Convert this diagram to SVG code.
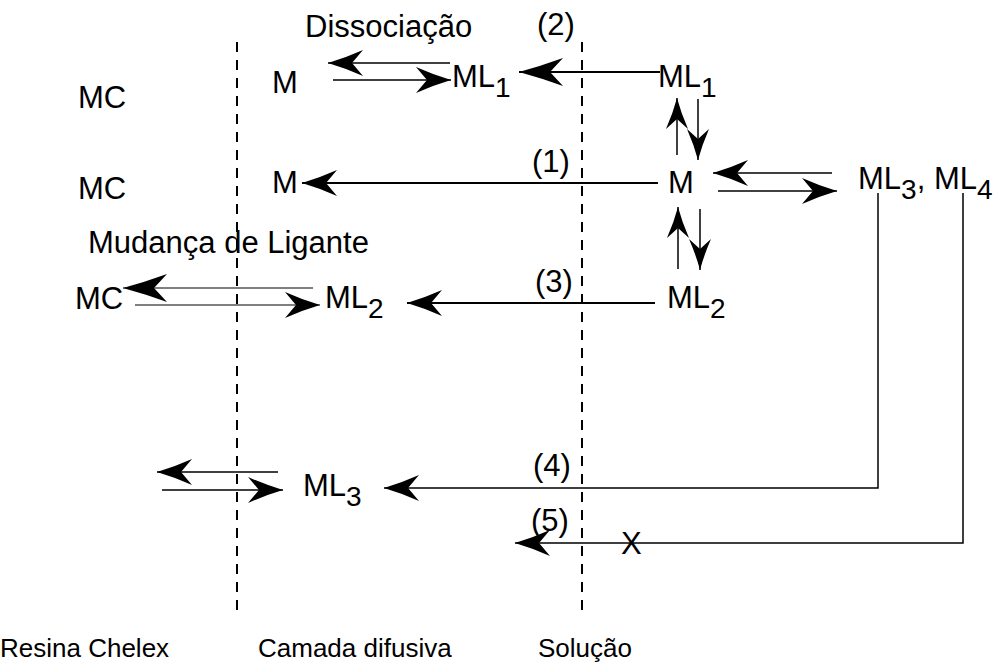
<svg xmlns="http://www.w3.org/2000/svg" width="1002" height="668" viewBox="0 0 1002 668">
  <style>
    text { font-family: "Liberation Sans", Arial, sans-serif; font-size: 31px; fill: #000; }
    .sub { font-size: 28px; }
    .zone-name { font-size: 26px; }
    .zone { stroke: #000; stroke-width: 2; stroke-dasharray: 10 8; fill: none; }
    .flux { stroke: #000; stroke-width: 2; fill: none; }
    .eq { stroke: #000; stroke-width: 1.5; fill: none; }
    .eqgray { stroke: #555; stroke-width: 1.5; fill: none; }
  </style>
  <defs>
    <marker id="headBig" markerUnits="userSpaceOnUse" markerWidth="50" markerHeight="32" refX="0" refY="0" viewBox="-46 -16 48 32" orient="auto">
      <path d="M0,0 Q-22,-6 -44,-14 L-31,0 L-44,14 Q-22,6 0,0 Z" fill="#000"/>
    </marker>
    <marker id="head" markerUnits="userSpaceOnUse" markerWidth="40" markerHeight="32" refX="0" refY="0" viewBox="-38 -16 40 32" orient="auto">
      <path d="M0,0 Q-17,-5 -35,-13 L-24,0 L-35,13 Q-17,5 0,0 Z" fill="#000"/>
    </marker>
    <marker id="headV" markerUnits="userSpaceOnUse" markerWidth="36" markerHeight="26" refX="0" refY="0" viewBox="-34 -13 36 26" orient="auto">
      <path d="M0,0 Q-15,-4 -31,-11 L-21,0 L-31,11 Q-15,4 0,0 Z" fill="#000"/>
    </marker>
  </defs>

  <!-- compartment boundaries -->
  <g id="boundaries">
    <line class="zone" x1="237" y1="42" x2="237" y2="610"/>
    <line class="zone" x1="582" y1="42" x2="582" y2="610"/>
  </g>

  <!-- species -->
  <g id="mc1"><text x="78" y="108">MC</text></g>
  <g id="m1"><text x="272" y="93">M</text></g>
  <g id="ml1-layer"><text x="452" y="87">ML<tspan class="sub" dy="10">1</tspan></text></g>
  <g id="ml1-sol"><text x="658" y="87">ML<tspan class="sub" dy="10">1</tspan></text></g>

  <g id="mc2"><text x="78" y="199">MC</text></g>
  <g id="m2"><text x="272" y="193">M</text></g>
  <g id="m-sol"><text x="668" y="193">M</text></g>
  <g id="ml34-sol"><text x="858" y="189">ML<tspan class="sub" dy="10">3</tspan><tspan dy="-10">, ML</tspan><tspan class="sub" dy="10">4</tspan></text></g>

  <g id="mc3"><text x="75" y="309">MC</text></g>
  <g id="ml2-layer"><text x="325" y="308">ML<tspan class="sub" dy="10">2</tspan></text></g>
  <g id="ml2-sol"><text x="667" y="308">ML<tspan class="sub" dy="10">2</tspan></text></g>

  <g id="ml3-layer"><text x="303" y="496">ML<tspan class="sub" dy="10">3</tspan></text></g>
  <g id="x-blocked"><text x="621" y="554">X</text></g>

  <!-- process labels -->
  <g id="labels">
    <text x="305" y="37">Dissociação</text>
    <text x="88" y="253">Mudança de Ligante</text>
    <text x="537" y="35">(2)</text>
    <text x="532" y="172">(1)</text>
    <text x="535" y="292">(3)</text>
    <text x="533" y="476">(4)</text>
    <text x="531" y="531">(5)</text>
  </g>

  <g id="zone-names">
    <text class="zone-name" x="0" y="657">Resina Chelex</text>
    <text class="zone-name" x="258" y="657">Camada difusiva</text>
    <text class="zone-name" x="538" y="657">Solução</text>
  </g>

  <!-- connectors -->
  <g id="connectors">
    <!-- dissociation equilibrium M <-> ML1 -->
    <line class="eq" x1="450" y1="63" x2="328" y2="63" marker-end="url(#head)"/>
    <line class="eq" x1="333" y1="80" x2="451" y2="80" marker-end="url(#head)"/>
    <!-- (2) ML1 transport -->
    <line class="flux" x1="660" y1="72" x2="519" y2="72" marker-end="url(#headBig)"/>
    <!-- ML1 <-> M in solution -->
    <line class="eq" x1="677" y1="155" x2="677" y2="98" marker-end="url(#headV)"/>
    <line class="eq" x1="698" y1="99" x2="698" y2="160" marker-end="url(#headV)"/>
    <!-- (1) free metal -->
    <line class="flux" x1="658" y1="183" x2="302" y2="183" marker-end="url(#head)"/>
    <!-- M <-> ML3, ML4 -->
    <line class="eq" x1="832" y1="173" x2="713" y2="173" marker-end="url(#head)"/>
    <line class="eq" x1="718" y1="191" x2="837" y2="191" marker-end="url(#head)"/>
    <!-- M <-> ML2 in solution -->
    <line class="eq" x1="678" y1="269" x2="678" y2="207" marker-end="url(#headV)"/>
    <line class="eq" x1="700" y1="209" x2="700" y2="270" marker-end="url(#headV)"/>
    <!-- ligand exchange MC <-> ML2 -->
    <line class="eqgray" x1="313" y1="288" x2="123" y2="288" marker-end="url(#headBig)"/>
    <line class="eqgray" x1="135" y1="305" x2="320" y2="305" marker-end="url(#head)"/>
    <!-- (3) ML2 transport -->
    <line class="flux" x1="655" y1="303" x2="407" y2="303" marker-end="url(#head)"/>
    <!-- (4) ML3 transport -->
    <polyline class="eq" points="878,193 878,488 384,488" marker-end="url(#head)"/>
    <!-- ML3 exchange with resin -->
    <line class="eq" x1="278" y1="472" x2="157" y2="472" marker-end="url(#head)"/>
    <line class="eq" x1="162" y1="490" x2="283" y2="490" marker-end="url(#head)"/>
    <!-- (5) ML4 blocked -->
    <polyline class="eq" points="963,193 963,543 515,543" marker-end="url(#head)"/>
  </g>
</svg>
